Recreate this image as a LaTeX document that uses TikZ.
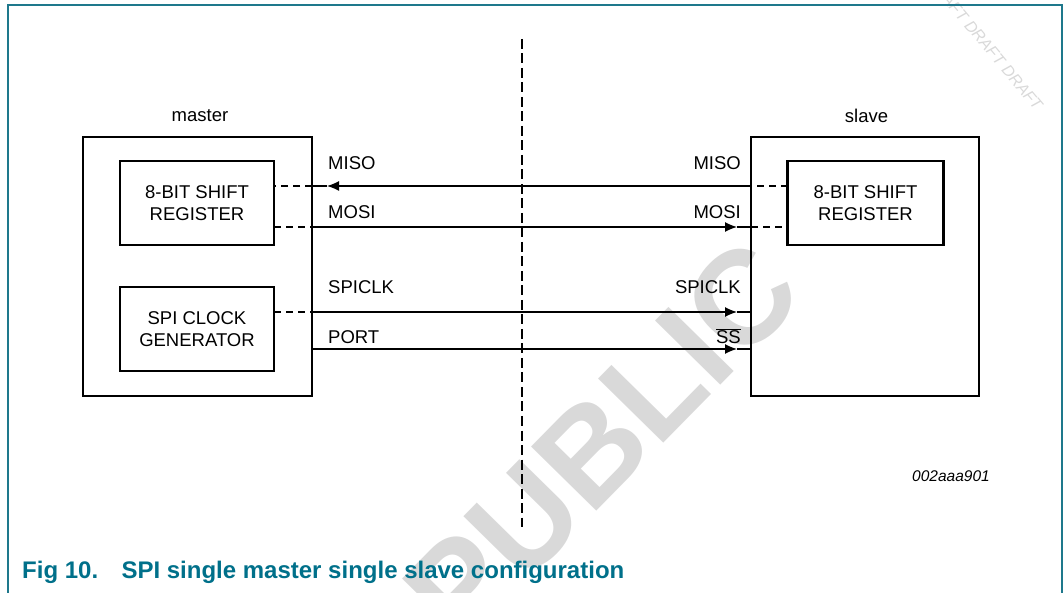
\documentclass[tikz,border=0pt]{standalone}
\usepackage{fontspec}
\setmainfont{Liberation Sans}
\usetikzlibrary{arrows.meta,calc}
\definecolor{nxpteal}{RGB}{0,112,138}
\definecolor{framecol}{RGB}{30,120,140}
\definecolor{wmgray}{RGB}{217,217,217}
\begin{document}
\begin{tikzpicture}[x=1pt,y=-1pt,
  outerbox/.style={draw,line width=2.6pt,minimum width=229pt,minimum height=259pt,inner sep=0pt,outer sep=0pt},
  innerbox/.style={draw,line width=2.3pt,minimum width=154pt,minimum height=84pt,inner sep=0pt,outer sep=0pt,
    align=center,font=\fontsize{18.5}{22.6}\selectfont},
  lbl/.style={font=\fontsize{18.5}{22}\selectfont,inner sep=0pt},
  sig/.style={line width=1.3pt},
  sigdash/.style={line width=1.3pt,dash pattern=on 7pt off 5pt},
  tip/.style={-{Latex[length=12pt,width=10pt]}},
  vdash/.style={line width=1.2pt,dash pattern=on 10pt off 4.5pt}]
\useasboundingbox (0,0) rectangle (1063,593);
% watermarks
\begin{scope}
\clip (0,0) rectangle (1063,593);
\node[rotate=45.5,text=wmgray,font=\fontsize{133}{133}\bfseries\selectfont,inner sep=0pt] (wmpub) at (602,441) {PUBLIC};
\node[rotate=-50,text=wmgray,font=\fontsize{16}{16}\itshape\selectfont,inner sep=0pt] (wmdraft) at (985,43) {DRAFT DRAFT DRAFT};
\end{scope}
% frame
\coordinate (fbl) at (8,593);
\coordinate (ftl) at (8,5);
\coordinate (ftr) at (1062,5);
\coordinate (fbr) at (1062,593);
\draw[framecol,line width=1.5pt] (fbl) -- (ftl) -- (ftr) -- (fbr);
% divider
\coordinate (vtop) at (522,39);
\coordinate (vbot) at (522,527);
\draw[vdash] (vtop) -- (vbot);
% boxes
\node[outerbox] (master) at (197.5,266.5) {};
\node[outerbox,minimum width=228pt] (slave) at (865,266.5) {};
\node[innerbox] (sr1) at (197,203) {8-BIT SHIFT\\REGISTER};
\node[innerbox] (clk) at (197,329) {SPI CLOCK\\GENERATOR};
\node[innerbox,minimum width=156pt] (sr2) at (865.5,203) {8-BIT SHIFT\\REGISTER};
\node[lbl] (lmaster) at (200,116) {master};
\node[lbl] (lslave) at (866.5,116) {slave};
% signal levels
\coordinate (yMISO) at (0,186);
\coordinate (yMOSI) at (0,227);
\coordinate (yCLK) at (0,312);
\coordinate (yPORT) at (0,349);
% MISO
\draw[sigdash] (sr2.west|-yMISO) -- (slave.west|-yMISO);
\draw[sig,tip] (slave.west|-yMISO) -- ($(master.east|-yMISO)+(15,0)$);
\draw[sig] ($(master.east|-yMISO)+(15,0)$) -- (master.east|-yMISO);
\draw[sigdash] (master.east|-yMISO) -- (sr1.east|-yMISO);
% MOSI
\draw[sigdash] (sr1.east|-yMOSI) -- (master.east|-yMOSI);
\draw[sig,tip] (master.east|-yMOSI) -- ($(slave.west|-yMOSI)+(-14,0)$);
\draw[sig] ($(slave.west|-yMOSI)+(-14,0)$) -- (slave.west|-yMOSI);
\draw[sigdash] (slave.west|-yMOSI) -- (sr2.west|-yMOSI);
% SPICLK
\draw[sigdash] (clk.east|-yCLK) -- (master.east|-yCLK);
\draw[sig,tip] (master.east|-yCLK) -- ($(slave.west|-yCLK)+(-14,0)$);
\draw[sig] ($(slave.west|-yCLK)+(-14,0)$) -- (slave.west|-yCLK);
% PORT
\draw[sig,tip] (master.east|-yPORT) -- ($(slave.west|-yPORT)+(-14,0)$);
\draw[sig] ($(slave.west|-yPORT)+(-14,0)$) -- (slave.west|-yPORT);
% labels
\node[lbl,anchor=west] (lmisoL) at (328,163) {MISO};
\node[lbl,anchor=west] (lmosiL) at (328,212) {MOSI};
\node[lbl,anchor=west] (lclkL) at (328,287) {SPICLK};
\node[lbl,anchor=west] (lportL) at (328,337) {PORT};
\node[lbl,anchor=east] (lmisoR) at (741,163) {MISO};
\node[lbl,anchor=east] (lmosiR) at (741,212) {MOSI};
\node[lbl,anchor=east] (lclkR) at (741,287) {SPICLK};
\node[lbl,anchor=east] (lssR) at (741,336) {$\overline{\mbox{SS}}$};
\node[font=\fontsize{15.5}{18}\itshape\selectfont,inner sep=0pt,anchor=east] (code) at (990,476) {002aaa901};
\node[font=\fontsize{24}{27}\bfseries\selectfont,text=nxpteal,inner sep=0pt,anchor=base west] (cap) at (22,578) {Fig 10.\hspace{0.6em} SPI single master single slave configuration};
\end{tikzpicture}
\end{document}
